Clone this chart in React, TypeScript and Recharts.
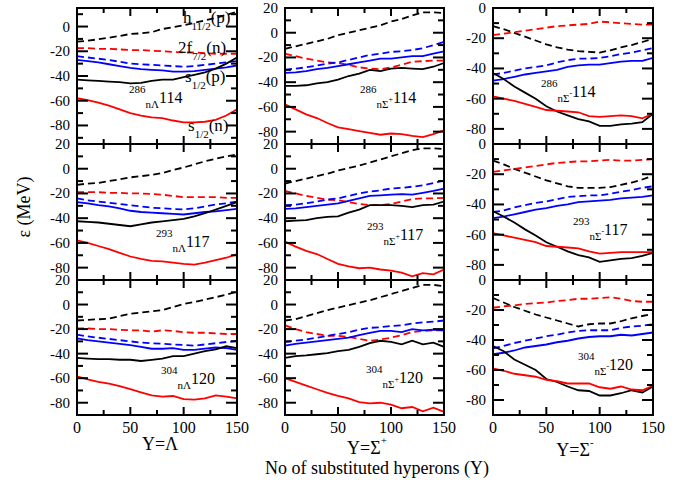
import React from 'react';
import { LineChart, Line, XAxis, YAxis } from 'recharts';

// x values: number of substituted hyperons
const X = [0, 10, 20, 30, 40, 50, 60, 70, 80, 90, 100, 110, 120, 130, 140, 150];
const X_TICKS = [0, 25, 50, 75, 100, 125, 150];
const X_TICK_LABELS = [0, 50, 100, 150];

// ---- 286 nΛ 114 ----
const L114_hd = [-12.2, -11.5, -10.3, -9, -7.6, -6, -5.5, -4.6, -2, -0.5, 1, 3, 5, 7, 9.5, 12];
const L114_fd = [-17.5, -17.5, -18, -18, -18.5, -19, -19, -19.5, -20, -20.5, -21, -21, -21.5, -22, -22, -22];
const L114_bd = [-24, -25, -26, -27, -28.5, -30, -30.5, -31, -31.5, -32, -32.5, -32, -31, -30, -29, -28];
const L114_bs = [-27, -28, -29, -30.5, -32, -33.5, -34.5, -35, -35.5, -36.5, -36.5, -36, -35, -34, -33, -31.5];
const L114_ks = [-43, -43.5, -44, -44.5, -45, -46, -45.5, -44, -43, -43, -41, -39, -37, -34, -30, -25];
const L114_rs = [-58, -59.5, -61.5, -64, -67, -70, -72, -73.5, -74, -76, -77.5, -77.5, -77, -75.5, -72, -67];

// ---- 286 nΣ+ 114 ----
const SP114_hd = [-13, -11, -9, -7, -5, -2, 0, 2, 4, 6, 9, 11, 14, 16.5, 16.5, 16];
const SP114_fd = [-17, -19, -21, -22.5, -24, -24.5, -26, -28, -29, -29.5, -28, -26, -23.5, -23, -22.5, -22.5];
const SP114_bd = [-30, -29, -28, -26.5, -25, -24, -22, -20, -18, -17, -15.5, -15, -14, -12.5, -10, -7.5];
const SP114_bs = [-32.5, -32, -31, -29.5, -28.5, -27, -25.5, -24, -22.5, -21, -21, -20, -19, -19, -17, -15];
const SP114_ks = [-43, -43, -42.5, -41, -40, -38, -35, -33, -30, -31, -29, -28.5, -29, -29.5, -27.5, -24.5];
const SP114_rs = [-58, -62, -66, -69, -73, -76.5, -78, -79.5, -81, -82.5, -81.5, -82, -83.5, -84.5, -82, -79];

// ---- 286 nΣ- 114 ----
const SM114_hd = [-12, -14, -16.5, -19, -21.5, -24, -26, -27.5, -28.5, -29, -29.5, -28, -26, -24.5, -22.5, -20.5];
const SM114_fd = [-18, -17, -16, -15, -14, -13, -12, -11.5, -11, -10.5, -9, -9.5, -10, -10.5, -11, -11];
const SM114_bd = [-44, -43, -41.5, -40, -39, -38, -36, -34.5, -33.5, -33.5, -33, -32, -30.5, -29.5, -28, -26.5];
const SM114_bs = [-48, -47, -45.5, -44, -43, -42, -41, -39, -38, -37.5, -37.5, -36.5, -35.5, -35, -35, -33];
const SM114_ks = [-43, -47, -52, -56, -60, -65, -68.5, -71, -73.5, -75, -78, -78, -77, -76.5, -75.5, -70];
const SM114_rs = [-58.5, -60, -61.5, -63.5, -65.5, -67.5, -68, -68.5, -69, -71.5, -72, -71.5, -71, -71.5, -73, -70];

// ---- 293 nΛ 117 ----
const L117_hd = [-13, -12, -11.5, -10, -8.5, -7, -6, -5, -3.5, -1, 1, 3.5, 6, 8, 10, 11.5];
const L117_fd = [-19, -19, -19, -19.5, -19.5, -20, -20, -20.5, -21, -22, -23, -23, -23, -23, -23.5, -23.5];
const L117_bd = [-24, -25.5, -26.5, -27.5, -28.5, -29.5, -30.5, -31.5, -32, -32.5, -33, -32, -30.5, -29, -28, -26.5];
const L117_bs = [-27, -28, -29.5, -30.5, -32, -34, -35, -35.5, -36, -36.5, -37, -36, -35, -34.5, -33.5, -32.5];
const L117_ks = [-42.5, -43, -43.5, -44.5, -45.5, -46.5, -45, -43.5, -42.5, -41.5, -40.5, -38.5, -36, -33, -30, -27];
const L117_rs = [-58, -60, -62.5, -65, -68, -71, -73, -74.5, -75, -76, -77, -77.5, -76, -74, -72, -69];

// ---- 293 nΣ+ 117 ----
const SP117_hd = [-12, -10, -8, -6, -4, -1.5, 0.5, 2.5, 5, 7.5, 10, 12.5, 15, 16.5, 16.5, 16];
const SP117_fd = [-18, -20, -22, -23.5, -25, -25.5, -27, -28.5, -29.5, -29.5, -28.5, -26.5, -24.5, -24, -24, -23.5];
const SP117_bd = [-29.5, -29, -28, -26.5, -25, -24, -22, -20, -18.5, -17.5, -16, -15.5, -14.5, -13.5, -11.5, -9.5];
const SP117_bs = [-32.5, -32, -31, -30, -29, -28, -26, -24, -22, -21.5, -21, -20.5, -21, -19.5, -18, -16];
const SP117_ks = [-42.5, -42, -41.5, -40, -39, -38.5, -35.5, -33, -29.5, -29.5, -29.5, -30, -31, -29.5, -29, -26.5];
const SP117_rs = [-59, -63, -66.5, -69, -73, -77, -79, -80.5, -80, -81.5, -82.5, -84, -87, -84.5, -85.5, -81.5];

// ---- 293 nΣ- 117 ----
const SM117_hd = [-11, -13.5, -16.5, -19, -21.5, -24, -26, -28, -29, -29, -29, -28.5, -27, -25.5, -23.5, -21];
const SM117_fd = [-18.5, -17.5, -16.5, -15.5, -14.5, -13.5, -12.5, -12, -11.5, -11.5, -11, -10.5, -11, -11, -10.5, -10];
const SM117_bd = [-45, -44, -42, -40.5, -39, -38, -36.5, -35, -34.5, -34, -34, -33, -31.5, -30.5, -29, -28];
const SM117_bs = [-49, -48, -46.5, -45, -43.5, -42.5, -41, -40, -38.5, -38, -37.5, -37, -36, -35.5, -35, -34];
const SM117_ks = [-44.5, -48, -52, -56.5, -60.5, -65, -68, -71, -73.5, -75, -78, -77, -76, -75.5, -74, -72];
const SM117_rs = [-59, -60.5, -62, -63.5, -65, -67.5, -68, -68.5, -69, -71, -72.5, -72, -71.5, -71.5, -71.5, -71.5];

// ---- 304 nΛ 120 ----
const L120_hd = [-13, -12.5, -12, -11.5, -9.5, -7.5, -6.5, -5.5, -4.5, -2, 0.5, 2, 4, 6, 8, 10.5];
const L120_fd = [-19.5, -19.5, -20, -20, -20.5, -21, -21, -22, -21, -21.5, -22.5, -23, -23, -23.5, -24, -24];
const L120_bd = [-24.5, -26, -27, -28, -29, -30, -31, -31.5, -32, -32.5, -33, -33.5, -32.5, -31.5, -30.5, -29.5];
const L120_bs = [-27.5, -29, -30, -31, -32, -33, -34.5, -36, -36, -35.5, -37, -37, -36, -35, -35.5, -37];
const L120_ks = [-43.5, -44, -44.5, -44.5, -45, -45, -46, -45, -44, -42, -42, -40, -38, -36.5, -34, -35.5];
const L120_rs = [-58.5, -61, -63, -64.5, -66.5, -69, -71.5, -74, -75, -74.5, -77, -77.5, -76.5, -74, -75, -76.5];

// ---- 304 nΣ+ 120 ----
const SP120_hd = [-13, -12, -9.5, -7, -4.5, -2.5, -0.5, 1.5, 3.5, 6, 8.5, 11, 13.5, 16, 16, 15];
const SP120_fd = [-17, -20, -22.5, -24, -25.5, -25.5, -26.5, -28, -29.5, -28.5, -27, -25, -22.5, -21.5, -21, -21];
const SP120_bd = [-30.5, -29.5, -28.5, -27, -25.5, -24, -22.5, -20.5, -19, -18.5, -17.5, -17, -15.5, -14.5, -14, -13];
const SP120_bs = [-33.5, -32, -31, -30, -29, -28, -27, -25, -23, -21.5, -21.5, -22.5, -20, -21, -20.5, -21];
const SP120_ks = [-43.5, -42, -41.5, -40.5, -39.5, -38, -37, -34.5, -31.5, -29.5, -30.5, -32.5, -29.5, -32.5, -31, -34.5];
const SP120_rs = [-60, -63, -66, -69, -72, -74.5, -76.5, -79.5, -80.5, -80, -81.5, -84.5, -83.5, -87, -84, -87.5];

// ---- 304 nΣ- 120 ----
const SM120_hd = [-12, -15, -18, -20.5, -23, -25, -27, -29, -31, -29.5, -29, -29, -27.5, -25.5, -24, -22.5];
const SM120_fd = [-18.5, -17.5, -17, -16, -15.5, -15, -14, -13.5, -12.5, -12.5, -12, -11.5, -12.5, -14, -14.5, -14.5];
const SM120_bd = [-45.5, -44, -42, -40.5, -39, -37.5, -36.5, -35, -34, -33.5, -33.5, -33.5, -32, -31, -30.5, -29.5];
const SM120_bs = [-49.5, -48.5, -47, -45, -44, -43, -41.5, -40.5, -39, -38, -37.5, -37.5, -36.5, -37, -36, -35];
const SM120_ks = [-44, -47.5, -53, -56.5, -60, -66, -68, -71, -73.5, -74, -77, -77, -75.5, -73.5, -75, -71];
const SM120_rs = [-59, -60.5, -62.5, -63.5, -64.5, -66.5, -67.5, -69, -69, -69, -71.5, -72.5, -71, -73, -73.5, -70.5];

// y tick lists
const Y_TICKS_A = [10, 0, -10, -20, -30, -40, -50, -60, -70, -80, -90];
const Y_TICKS_B = [20, 10, 0, -10, -20, -30, -40, -50, -60, -70, -80, -90];
const Y_TICKS_C = [0, -10, -20, -30, -40, -50, -60, -70, -80, -90];

const FONT = '"Liberation Serif", "Times New Roman", serif';

const SERIES = [
  { key: 'hd', color: '#000000', dash: '7 4' },
  { key: 'fd', color: '#ff0000', dash: '7 4' },
  { key: 'bd', color: '#0000ff', dash: '7 4' },
  { key: 'bs', color: '#0000ff', dash: undefined },
  { key: 'ks', color: '#000000', dash: undefined },
  { key: 'rs', color: '#ff0000', dash: undefined },
];

const COLS = [
  { left: 77, w: 160 },
  { left: 285, w: 159 },
  { left: 493, w: 160 },
];
const ROWS = [
  { top: 8, h: 136 },
  { top: 144, h: 136 },
  { top: 280, h: 135 },
];

type PanelDef = {
  r: number;
  c: number;
  domain: [number, number];
  ticks: number[];
  series: Record<string, number[]>;
};

const PANELS: PanelDef[] = [
  { r: 0, c: 0, domain: [-95, 15], ticks: Y_TICKS_A, series: { hd: L114_hd, fd: L114_fd, bd: L114_bd, bs: L114_bs, ks: L114_ks, rs: L114_rs } },
  { r: 0, c: 1, domain: [-90, 20], ticks: Y_TICKS_B, series: { hd: SP114_hd, fd: SP114_fd, bd: SP114_bd, bs: SP114_bs, ks: SP114_ks, rs: SP114_rs } },
  { r: 0, c: 2, domain: [-90, 0], ticks: Y_TICKS_C, series: { hd: SM114_hd, fd: SM114_fd, bd: SM114_bd, bs: SM114_bs, ks: SM114_ks, rs: SM114_rs } },
  { r: 1, c: 0, domain: [-90, 20], ticks: Y_TICKS_B, series: { hd: L117_hd, fd: L117_fd, bd: L117_bd, bs: L117_bs, ks: L117_ks, rs: L117_rs } },
  { r: 1, c: 1, domain: [-90, 20], ticks: Y_TICKS_B, series: { hd: SP117_hd, fd: SP117_fd, bd: SP117_bd, bs: SP117_bs, ks: SP117_ks, rs: SP117_rs } },
  { r: 1, c: 2, domain: [-90, 0], ticks: Y_TICKS_C, series: { hd: SM117_hd, fd: SM117_fd, bd: SM117_bd, bs: SM117_bs, ks: SM117_ks, rs: SM117_rs } },
  { r: 2, c: 0, domain: [-90, 20], ticks: Y_TICKS_B, series: { hd: L120_hd, fd: L120_fd, bd: L120_bd, bs: L120_bs, ks: L120_ks, rs: L120_rs } },
  { r: 2, c: 1, domain: [-90, 20], ticks: Y_TICKS_B, series: { hd: SP120_hd, fd: SP120_fd, bd: SP120_bd, bs: SP120_bs, ks: SP120_ks, rs: SP120_rs } },
  { r: 2, c: 2, domain: [-90, 0], ticks: Y_TICKS_C, series: { hd: SM120_hd, fd: SM120_fd, bd: SM120_bd, bs: SM120_bs, ks: SM120_ks, rs: SM120_rs } },
];

// annotation texts
const ANN_MASS = ['286', '286', '286', '293', '293', '293', '304', '304', '304'];
const ANN_HYP = ['nΛ', 'nΣ', 'nΣ', 'nΛ', 'nΣ', 'nΣ', 'nΛ', 'nΣ', 'nΣ'];
const ANN_CHG = ['', '+', '-', '', '+', '-', '', '+', '-'];
const ANN_Z = ['114', '114', '114', '117', '117', '117', '120', '120', '120'];
const ANN_POS = [
  [129, 103], [360, 103], [541, 97],
  [156, 247], [367, 240], [573, 235],
  [161, 384], [366, 383], [578, 370],
];

const Y_MAJ = 11;
const Y_MIN = 6;
const X_MAJ = 8;
const X_MIN = 5;
const YLAB_GAP = 7;

const isMajorY = (v: number) => Math.abs(v % 20) === 0;
const isMajorX = (v: number) => Math.abs(v % 50) === 0;

function PanelChart({ p }: { p: PanelDef }) {
  const col = COLS[p.c];
  const row = ROWS[p.r];
  const ML = 5, MR = 16, MT = 12, MB = 5, YW = 45, XH = 25;
  const width = ML + YW + col.w + MR;
  const height = MT + row.h + XH + MB;
  const data = X.map((x, i) => {
    const d: Record<string, number> = { x };
    SERIES.forEach((s) => {
      d[s.key] = p.series[s.key][i];
    });
    return d;
  });
  const showX = p.r === 2;

  const leftTick = (t: any) => {
    const v = t.payload.value;
    if (!isMajorY(v)) return <g key={`l${v}`} />;
    return (
      <text key={`l${v}`} x={Number(t.x)} y={Number(t.y)} dy={5} textAnchor="end" fontSize={15} fontFamily={FONT} fill="#000">
        {String(v)}
      </text>
    );
  };
  const bottomTick = (t: any) => {
    const v = t.payload.value;
    if (!(showX && X_TICK_LABELS.includes(v))) return <g key={`b${v}`} />;
    return (
      <text key={`b${v}`} x={Number(t.x)} y={Number(t.y) + 18} textAnchor="middle" fontSize={16} fontFamily={FONT} fill="#000">
        {String(v)}
      </text>
    );
  };

  return (
    <div style={{ position: 'absolute', left: col.left - ML - YW, top: row.top - MT }}>
      <LineChart width={width} height={height} data={data} margin={{ top: MT, right: MR, bottom: MB, left: ML }}>
        <XAxis
          xAxisId="b"
          dataKey="x"
          type="number"
          domain={[0, 150]}
          ticks={X_TICKS}
          interval={0}
          height={XH}
          axisLine={false}
          tickLine={false}
          tickSize={0}
          tickMargin={0}
          tick={bottomTick}
        />
        <YAxis
          yAxisId="l"
          type="number"
          domain={p.domain}
          ticks={p.ticks}
          interval={0}
          width={YW}
          axisLine={false}
          tickLine={false}
          tickSize={0}
          tickMargin={YLAB_GAP}
          tick={leftTick}
        />
        {SERIES.map((s) => (
          <Line
            key={s.key}
            xAxisId="b"
            yAxisId="l"
            type="linear"
            dataKey={s.key}
            stroke={s.color}
            strokeWidth={1.8}
            strokeDasharray={s.dash}
            dot={false}
            activeDot={false}
            isAnimationActive={false}
          />
        ))}
      </LineChart>
    </div>
  );
}

// Frames and inward tick marks for every panel (axis decoration, positioned by panel geometry)
function Frames() {
  const items: React.ReactNode[] = [];
  PANELS.forEach((p, i) => {
    const col = COLS[p.c];
    const row = ROWS[p.r];
    const [lo, hi] = p.domain;
    const L = col.left, R = col.left + col.w, T = row.top, B = row.top + row.h;
    items.push(
      <rect key={`f${i}`} x={L} y={T} width={col.w} height={row.h} fill="none" stroke="#000000" strokeWidth={2} />
    );
    p.ticks.forEach((v) => {
      const y = T + ((hi - v) / (hi - lo)) * row.h;
      const len = isMajorY(v) ? Y_MAJ : Y_MIN;
      items.push(<line key={`yl${i}_${v}`} x1={L} x2={L + len} y1={y} y2={y} stroke="#000000" strokeWidth={2} />);
      items.push(<line key={`yr${i}_${v}`} x1={R} x2={R - len} y1={y} y2={y} stroke="#000000" strokeWidth={2} />);
    });
    X_TICKS.forEach((v) => {
      const x = L + (v / 150) * col.w;
      const len = isMajorX(v) ? X_MAJ : X_MIN;
      items.push(<line key={`xb${i}_${v}`} x1={x} x2={x} y1={B} y2={B - len} stroke="#000000" strokeWidth={2} />);
      items.push(<line key={`xt${i}_${v}`} x1={x} x2={x} y1={T} y2={T + len} stroke="#000000" strokeWidth={2} />);
    });
  });
  return <g>{items}</g>;
}

function Overlay() {
  const lvl = (x: number, y: number, main: string, sub: string, tail: string) => (
    <text x={x} y={y} fontFamily={FONT} fill="#000" fontSize={17}>
      {main}
      <tspan fontSize={11} dy={7}>{sub}</tspan>
      <tspan fontSize={17} dy={-7}>{tail}</tspan>
    </text>
  );
  return (
    <svg
      width={689}
      height={488}
      style={{ position: 'absolute', left: 0, top: 0, pointerEvents: 'none' }}
    >
      <Frames />
      {lvl(183, 23, 'h', '11/2', '(p)')}
      {lvl(178, 53, '2f', '7/2', '(n)')}
      {lvl(185, 82, 's', '1/2', '(p)')}
      {lvl(188, 131, 's', '1/2', '(n)')}

      {ANN_POS.map(([x0, b], i) => (
        <text key={i} x={x0} y={b} fontFamily={FONT} fill="#000">
          <tspan fontSize={11} dy={-10}>{ANN_MASS[i]}</tspan>
          <tspan fontSize={11} dy={15}>{ANN_HYP[i]}</tspan>
          {ANN_CHG[i] ? (
            <>
              <tspan fontSize={8} dy={-6}>{ANN_CHG[i]}</tspan>
              <tspan fontSize={16} dy={1}>{ANN_Z[i]}</tspan>
            </>
          ) : (
            <tspan fontSize={16} dy={-5}>{ANN_Z[i]}</tspan>
          )}
        </text>
      ))}

      <text
        x={0}
        y={0}
        transform="translate(30,207) rotate(-90)"
        textAnchor="middle"
        fontFamily={FONT}
        fontSize={18}
        fill="#000"
      >
        ε (MeV)
      </text>
      <text x={160} y={450} textAnchor="middle" fontFamily={FONT} fontSize={18} fill="#000">
        Y=Λ
      </text>
      <text x={367} y={454} textAnchor="middle" fontFamily={FONT} fontSize={18} fill="#000">
        Y=Σ<tspan fontSize={11} dy={-10}>+</tspan>
      </text>
      <text x={575} y={456} textAnchor="middle" fontFamily={FONT} fontSize={18} fill="#000">
        Y=Σ<tspan fontSize={11} dy={-10}>-</tspan>
      </text>
      <text x={377} y={474} textAnchor="middle" fontFamily={FONT} fontSize={18} fill="#000">
        No of substituted hyperons (Y)
      </text>
    </svg>
  );
}

export default function App() {
  return (
    <div style={{ position: 'absolute', left: 0, top: 0, width: 689, height: 488, background: '#fff', overflow: 'hidden' }}>
      {PANELS.map((p, i) => (
        <PanelChart key={i} p={p} />
      ))}
      <Overlay />
    </div>
  );
}
